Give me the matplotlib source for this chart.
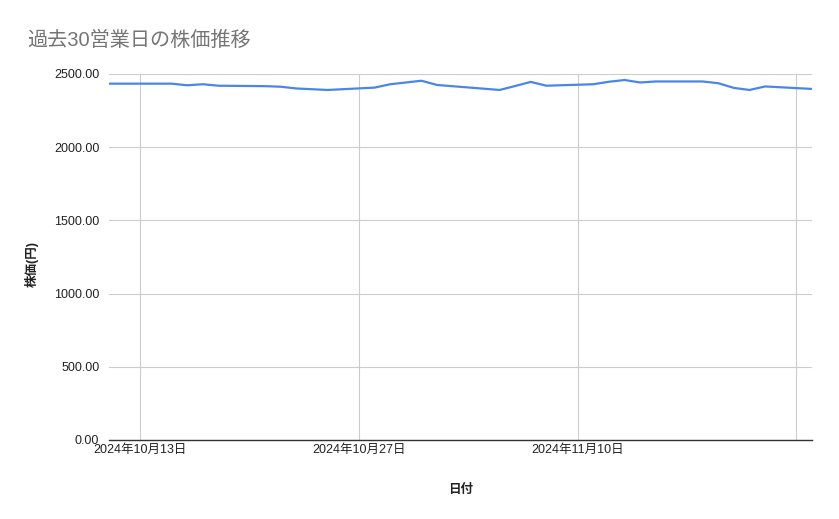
import matplotlib
matplotlib.use("Agg")
import matplotlib.pyplot as plt
import pandas as pd

plt.rcParams['font.family'] = ['Liberation Sans', 'Noto Sans CJK JP', 'DejaVu Sans']

# 30 business days (JP holidays 10/14, 11/4 skipped)
dates = pd.to_datetime([
    "2024-10-11", "2024-10-15", "2024-10-16", "2024-10-17", "2024-10-18",
    "2024-10-21", "2024-10-22", "2024-10-23", "2024-10-24", "2024-10-25",
    "2024-10-28", "2024-10-29", "2024-10-30", "2024-10-31", "2024-11-01",
    "2024-11-05", "2024-11-06", "2024-11-07", "2024-11-08",
    "2024-11-11", "2024-11-12", "2024-11-13", "2024-11-14", "2024-11-15",
    "2024-11-18", "2024-11-19", "2024-11-20", "2024-11-21", "2024-11-22",
    "2024-11-25",
])
prices = [
    2434, 2434, 2423, 2430, 2420,
    2417, 2413, 2401, 2396, 2391,
    2407, 2430, 2442, 2454, 2425,
    2391, 2418, 2446, 2420,
    2430, 2447, 2459, 2442, 2449,
    2449, 2437, 2405, 2391, 2415,
    2398,
]
tick_dates = pd.to_datetime(["2024-10-13", "2024-10-27", "2024-11-10", "2024-11-24"])
tick_labels = ["2024年10月13日", "2024年10月27日", "2024年11月10日", ""]
y_ticks = [0, 500, 1000, 1500, 2000, 2500]

fig = plt.figure(figsize=(8.39, 5.19), dpi=100)
ax = fig.add_axes([109/839, 1 - 440/519, (812-109)/839, (440-74)/519])

ax.plot(dates, prices, color='#4a86e8', linewidth=1.6)

ax.set_xlim(dates[0], dates[-1])
ax.set_ylim(0, 2500)
ax.set_yticks(y_ticks)
ax.set_yticklabels([f"{v:.2f}" for v in y_ticks])
ax.set_xticks(tick_dates)
ax.set_xticklabels(tick_labels)

ax.grid(True, color='#cccccc', linewidth=0.8)
ax.set_axisbelow(True)
for s in ['top', 'right', 'left']:
    ax.spines[s].set_visible(False)
ax.spines['bottom'].set_color('#333333')
ax.spines['bottom'].set_linewidth(1.0)
ax.tick_params(axis='both', length=0, labelsize=9, colors='#222222')
ax.tick_params(axis='x', pad=3)
ax.tick_params(axis='y', pad=7)

ax.set_xlabel("日付", fontsize=9, color='#222222', labelpad=20, fontweight='bold')
ax.set_ylabel("株価(円)", fontsize=9, color='#222222', labelpad=10, fontweight='bold')
ax.yaxis.set_label_coords(-0.1, 0.48)

fig.text(27/839, 1 - 40/519, "過去30営業日の株価推移", fontsize=14.5, color='#757575',
         va='center', ha='left')

fig.savefig("out.png", dpi=100)
